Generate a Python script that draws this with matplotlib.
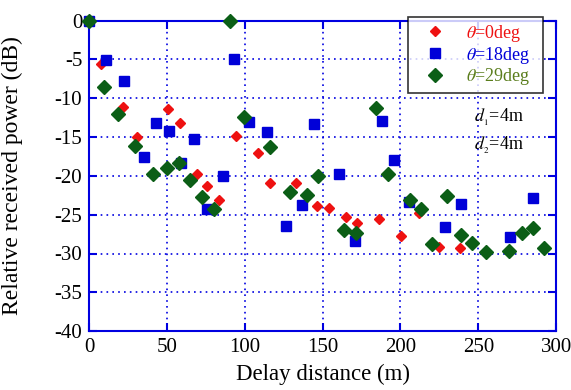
import numpy as np
import matplotlib
matplotlib.use("Agg")
import matplotlib.pyplot as plt

plt.rcParams["font.family"] = ["Liberation Serif", "DejaVu Serif"]
plt.rcParams["mathtext.fontset"] = "stix"
plt.rcParams["axes.unicode_minus"] = False

# measured relative power vs delay distance, three incidence angles
x_0deg = [0, 7.5, 22, 31, 51, 58.5, 69.5, 76, 83.6, 94.5, 108.7, 116.4, 133, 146.6,
          154, 165, 172, 186, 200.6, 212, 224.5, 238]
y_0deg = [0, -5.6, -11.1, -15.0, -11.4, -13.2, -19.7, -21.3, -23.1, -14.8, -17.1, -20.9,
          -20.9, -23.9, -24.2, -25.3, -26.1, -25.6, -27.8, -24.8, -29.2, -29.3]

x_18deg = [0, 10.7, 22.7, 35, 42.9, 51.4, 59, 67.7, 75.7, 85.7, 93.2, 102.6, 114.3,
           126.5, 136.8, 144.3, 160.3, 171, 188.2, 196.1, 205.3, 228.3, 238.6, 270.3, 285.1]
y_18deg = [0, -5.1, -7.8, -17.6, -13.2, -14.2, -18.4, -15.2, -24.3, -20.0, -4.9, -13.0,
           -14.3, -26.4, -23.8, -13.3, -19.8, -28.4, -12.9, -17.9, -23.3, -26.6, -23.6,
           -27.9, -22.9]

x_29deg = [0, 9.6, 18.4, 29.6, 41, 50, 57.9, 65, 72.5, 80, 90.7, 99.2, 116, 129.3, 140,
           146.8, 163.6, 171.7, 184.6, 191.8, 206, 213.3, 220.4, 229.6, 238.6, 245.7,
           255.1, 270, 278.3, 285.3, 292.2]
y_29deg = [0, -8.5, -12.0, -16.1, -19.8, -19.0, -18.4, -20.5, -22.7, -24.3, 0, -12.4,
           -16.3, -22.1, -22.5, -20.0, -27.0, -27.3, -11.3, -19.8, -23.1, -24.3, -28.8,
           -22.6, -27.6, -28.7, -29.8, -29.7, -27.3, -26.7, -29.3]

series = [
    (x_0deg, y_0deg, r"$\theta$=0deg", "D", 5, "#ee1111", "#ee1111"),
    (x_18deg, y_18deg, r"$\theta$=18deg", "s", 6.5, "#0000d8", "#0000d8"),
    (x_29deg, y_29deg, r"$\theta$=29deg", "D", 7.5, "#0b5e16", "#5a7d1c"),
]

blue = "#0000e0"
fig = plt.figure(figsize=(5.71, 3.9), dpi=100)
ax = fig.add_axes([0.156, 0.151, 0.818, 0.796])

for xs, ys, lab, mk, ms, col, tcol in series:
    ax.plot(xs, ys, linestyle="none", marker=mk, markersize=ms, color=col,
            markeredgecolor=col, label=lab, clip_on=False, zorder=3)

ax.set_xlim(0, 300)
ax.set_ylim(-40, 0)
ax.set_xticks(np.arange(0, 301, 50))
ax.set_yticks(np.arange(-40, 1, 5))
ax.grid(True, color=blue, linestyle=(0, (1, 2.5)), linewidth=1.2)
for s in ax.spines.values():
    s.set_color(blue)
    s.set_linewidth(1.5)
ax.tick_params(direction="in", color=blue, width=1.5, length=6, labelsize=15,
               right=True, top=True, pad=5)

ax.set_xlabel("Delay distance (m)", fontsize=16.5)
ax.set_ylabel("Relative received power (dB)", fontsize=17)
ax.xaxis.set_label_coords(0.5, -0.105)
ax.yaxis.set_label_coords(-0.142, 0.5)

leg = ax.legend(loc="upper left", bbox_to_anchor=(0.683, 0.754, 0.289, 0.257),
                mode="expand", fontsize=13, frameon=True, fancybox=False,
                borderaxespad=0, handletextpad=0.5, labelspacing=0.05,
                borderpad=0.3, handlelength=2.4)
leg.get_frame().set_edgecolor("black")
leg.get_frame().set_linewidth(1.2)
leg.set_zorder(5)
for txt, s in zip(leg.get_texts(), series):
    txt.set_color(s[6])

ax.text(0.825, 0.675, r"$d_{_1}$=4m", transform=ax.transAxes, fontsize=13, zorder=4)
ax.text(0.825, 0.585, r"$d_{_2}$=4m", transform=ax.transAxes, fontsize=13, zorder=4)

fig.savefig("out.png", dpi=100)
